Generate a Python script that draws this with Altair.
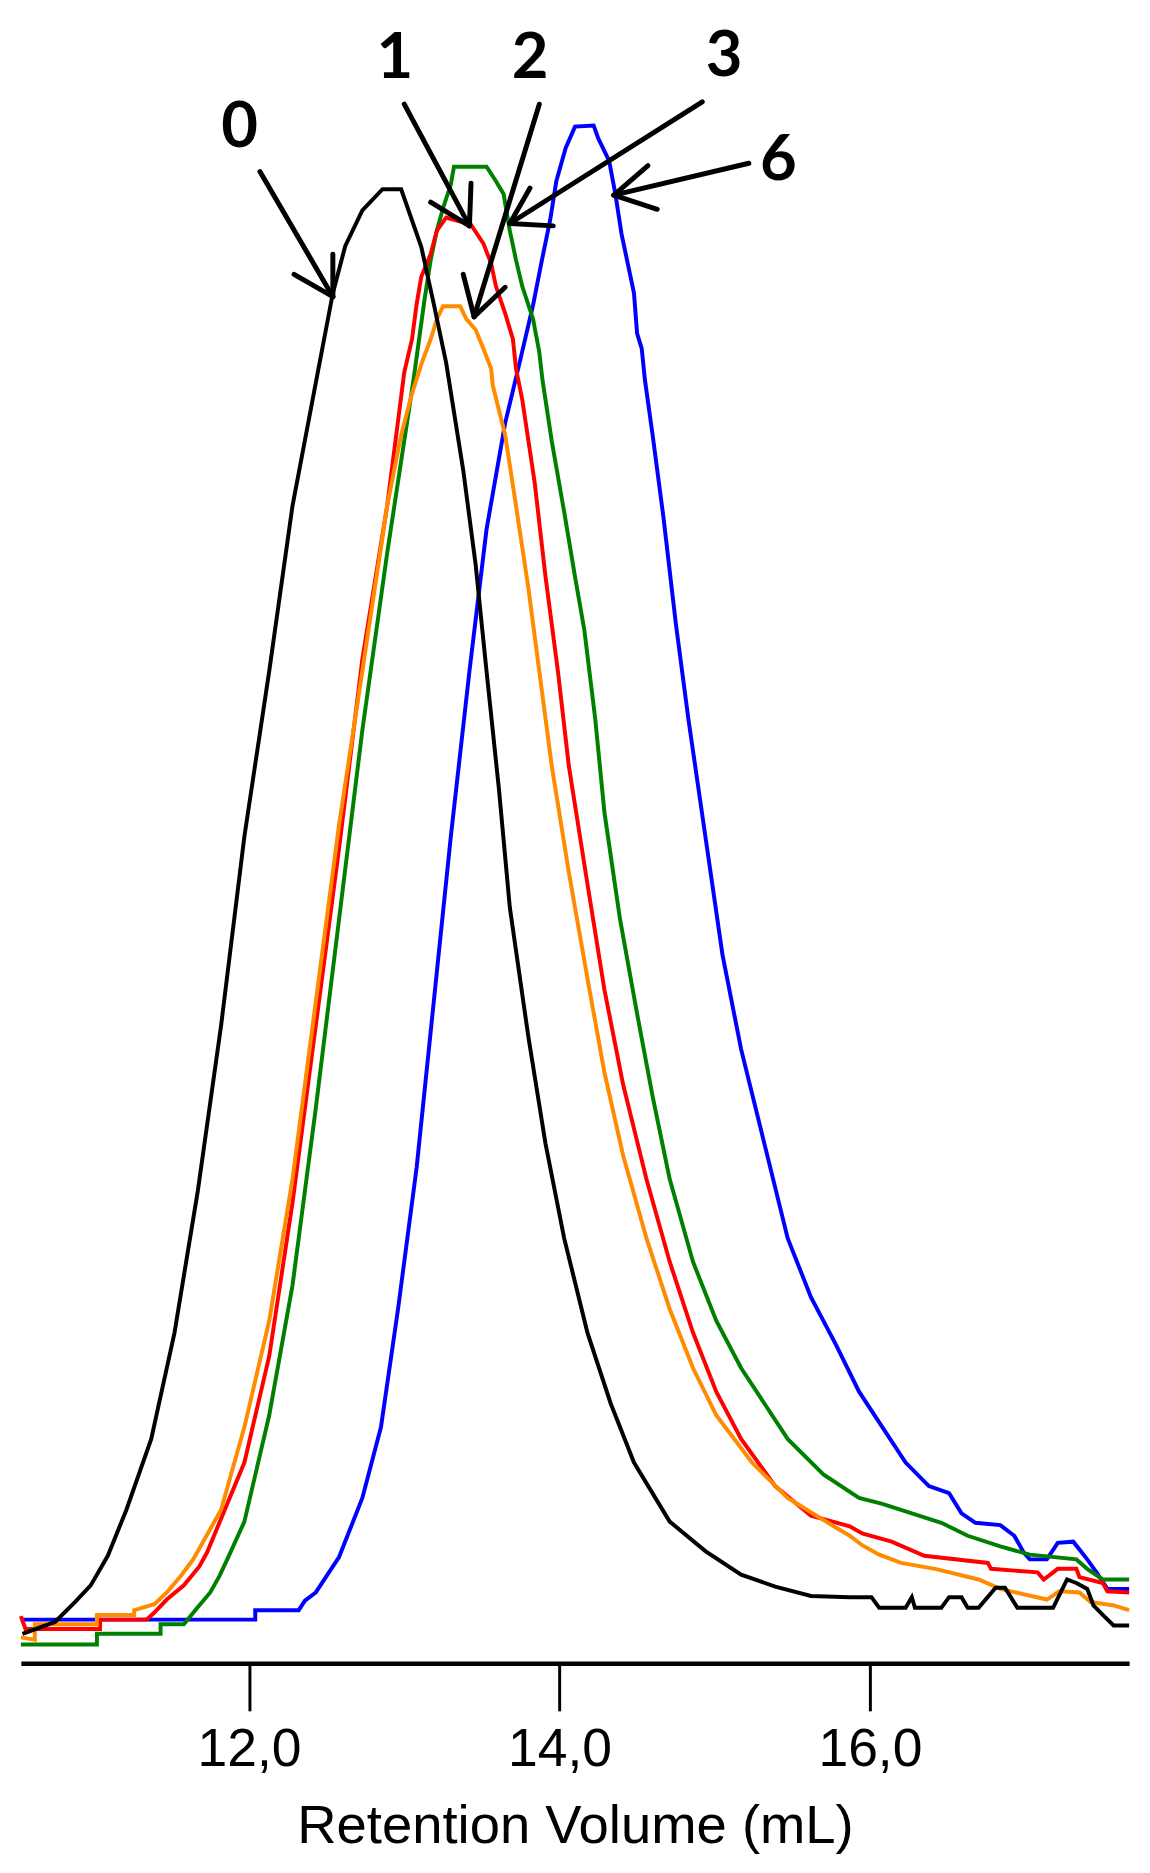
import altair as alt
import pandas as pd

# Retention volume (mL) and detector signal (arbitrary units) per sample
black_x = [10.54, 10.75, 10.88, 10.98, 11.09, 11.21, 11.37, 11.52, 11.67, 11.82, 11.97, 12.13, 12.28, 12.43, 12.54, 12.62, 12.73, 12.86, 12.98, 13.11, 13.19, 13.27, 13.38, 13.46, 13.53, 13.61, 13.68, 13.80, 13.91, 14.03, 14.18, 14.33, 14.48, 14.71, 14.94, 15.17, 15.39, 15.62, 15.87, 16.01, 16.06, 16.23, 16.27, 16.29, 16.46, 16.51, 16.59, 16.63, 16.70, 16.81, 16.87, 16.95, 17.18, 17.27, 17.33, 17.40, 17.44, 17.50, 17.57, 17.67]
black_y = [25, 35, 52, 66, 91, 130, 190, 280, 400, 540, 700, 840, 980, 1084, 1160, 1200, 1230, 1248, 1248, 1199, 1151, 1101, 1010, 930, 840, 740, 640, 530, 440, 360, 280, 220, 170, 120, 95, 75, 65, 57, 56, 56, 47, 47, 56, 47, 47, 56, 56, 47, 47, 64, 64, 47, 47, 71, 68, 63, 49, 41, 32, 32]

red_x = [10.53, 10.56, 11.04, 11.04, 11.34, 11.39, 11.47, 11.58, 11.68, 11.73, 11.97, 12.13, 12.28, 12.43, 12.58, 12.73, 12.89, 13.00, 13.05, 13.08, 13.11, 13.17, 13.21, 13.27, 13.43, 13.51, 13.56, 13.59, 13.65, 13.70, 13.72, 13.76, 13.84, 13.91, 13.99, 14.06, 14.18, 14.29, 14.41, 14.56, 14.71, 14.86, 15.01, 15.17, 15.39, 15.62, 15.87, 15.95, 16.14, 16.35, 16.76, 16.78, 17.08, 17.12, 17.21, 17.33, 17.35, 17.50, 17.53, 17.67]
red_y = [40, 29, 29, 37, 37, 43, 54, 66, 82, 94, 170, 260, 390, 540, 690, 850, 980, 1093, 1121, 1151, 1174, 1193, 1213, 1224, 1218, 1202, 1185, 1166, 1143, 1121, 1096, 1070, 1000, 920, 840, 760, 660, 570, 490, 410, 340, 280, 230, 190, 150, 125, 116, 110, 103, 91, 85, 80, 77, 71, 80, 80, 73, 68, 61, 60]

orange_x = [10.53, 10.62, 10.62, 11.02, 11.02, 11.26, 11.26, 11.39, 11.47, 11.56, 11.64, 11.82, 11.97, 12.13, 12.28, 12.43, 12.58, 12.73, 12.89, 12.98, 13.05, 13.11, 13.17, 13.21, 13.25, 13.36, 13.40, 13.46, 13.51, 13.56, 13.57, 13.65, 13.72, 13.80, 13.87, 13.95, 14.06, 14.18, 14.29, 14.41, 14.56, 14.71, 14.86, 15.01, 15.24, 15.47, 15.78, 15.87, 15.95, 16.06, 16.20, 16.42, 16.70, 16.84, 17.14, 17.22, 17.35, 17.42, 17.57, 17.67]
orange_y = [22, 20, 33, 33, 41, 41, 45, 50, 60, 74, 88, 130, 200, 290, 410, 560, 710, 840, 980, 1040, 1075, 1100, 1121, 1138, 1149, 1149, 1138, 1129, 1113, 1096, 1082, 1040, 980, 910, 840, 760, 670, 580, 500, 430, 360, 300, 250, 210, 170, 140, 115, 108, 100, 92, 85, 80, 71, 63, 54, 61, 60, 52, 49, 45]

green_x = [10.53, 11.02, 11.02, 11.43, 11.43, 11.58, 11.66, 11.75, 11.81, 11.87, 11.97, 12.13, 12.28, 12.43, 12.58, 12.73, 12.89, 13.06, 13.13, 13.17, 13.21, 13.25, 13.30, 13.32, 13.53, 13.59, 13.64, 13.68, 13.72, 13.76, 13.83, 13.87, 13.89, 13.95, 14.03, 14.10, 14.16, 14.23, 14.29, 14.39, 14.50, 14.60, 14.71, 14.86, 15.01, 15.17, 15.32, 15.47, 15.70, 15.93, 16.08, 16.27, 16.46, 16.63, 16.84, 17.03, 17.33, 17.40, 17.50, 17.67]
green_y = [16, 16, 25, 25, 33, 33, 46, 60, 74, 91, 120, 210, 320, 470, 630, 790, 940, 1087, 1154, 1188, 1213, 1232, 1252, 1267, 1267, 1255, 1244, 1213, 1188, 1166, 1138, 1110, 1087, 1035, 975, 920, 875, 800, 720, 630, 550, 480, 410, 340, 290, 250, 220, 190, 160, 140, 135, 127, 119, 108, 99, 92, 88, 80, 71, 71]

blue_x = [10.53, 12.04, 12.04, 12.32, 12.36, 12.43, 12.58, 12.73, 12.85, 12.96, 13.08, 13.19, 13.30, 13.42, 13.53, 13.65, 13.75, 13.83, 13.89, 13.94, 13.98, 14.04, 14.10, 14.22, 14.25, 14.32, 14.36, 14.40, 14.44, 14.48, 14.50, 14.53, 14.55, 14.60, 14.67, 14.75, 14.83, 14.94, 15.05, 15.17, 15.32, 15.47, 15.62, 15.78, 15.93, 16.08, 16.23, 16.38, 16.51, 16.59, 16.68, 16.84, 16.93, 16.99, 17.03, 17.14, 17.21, 17.31, 17.40, 17.46, 17.53, 17.67]
blue_y = [37, 37, 45, 45, 53, 60, 90, 140, 200, 300, 420, 560, 700, 840, 960, 1050, 1105, 1150, 1190, 1222, 1255, 1283, 1301, 1302, 1291, 1272, 1244, 1210, 1185, 1160, 1126, 1113, 1087, 1040, 970, 880, 800, 700, 600, 520, 440, 360, 310, 270, 230, 200, 170, 150, 144, 127, 119, 117, 108, 94, 88, 88, 102, 103, 88, 77, 63, 63]

# Annotation labels (text, position in data units)
label_text = ["0", "1", "2", "3", "6"]
label_x = [11.94, 12.94, 13.81, 15.06, 15.41]
label_y = [1300, 1358, 1358, 1360, 1272]

# Arrow segments (shaft + two barbs each) in data units
arrow_x1 = [12.07, 12.54, 12.54, 13.00, 13.42, 13.42, 13.87, 13.45, 13.45, 14.92, 13.68, 13.68, 15.22, 14.35, 14.35]
arrow_y1 = [1263, 1157, 1157, 1320, 1217, 1217, 1320, 1140, 1140, 1322, 1219, 1219, 1270, 1243, 1243]
arrow_x2 = [12.54, 12.29, 12.54, 13.42, 13.43, 13.17, 13.45, 13.38, 13.65, 13.68, 13.81, 13.96, 14.35, 14.57, 14.63]
arrow_y2 = [1157, 1176, 1193, 1217, 1253, 1237, 1140, 1176, 1165, 1219, 1249, 1217, 1243, 1268, 1231]

xscale = alt.Scale(domain=[10.53, 17.67], nice=False, zero=False)
yscale = alt.Scale(domain=[0, 1389], nice=False, zero=False)
xaxis = alt.Axis(
    values=[12, 14, 16],
    labelExpr="replace(format(datum.value, '.1f'), '.', ',')",
    grid=False,
    tickSize=48, tickWidth=3, tickColor="black",
    domainColor="black", domainWidth=4.5,
    labelFont="Liberation Sans", labelFontSize=54, labelColor="black", labelPadding=12,
    title="Retention Volume (mL)", titleFont="Liberation Sans", titleFontSize=55,
    titleFontWeight="normal", titleColor="black", titlePadding=24,
)

curves = [
    ("6", blue_x, blue_y, "#0000ff"),
    ("3", green_x, green_y, "#008000"),
    ("1", red_x, red_y, "#ff0000"),
    ("2", orange_x, orange_y, "#ff8c00"),
    ("0", black_x, black_y, "#000000"),
]

layers = []
for name, xs, ys, col in curves:
    df = pd.DataFrame({"v": xs, "s": ys, "i": list(range(len(xs)))})
    layers.append(
        alt.Chart(df).mark_line(color=col, strokeWidth=4).encode(
            x=alt.X("v:Q", scale=xscale, axis=xaxis),
            y=alt.Y("s:Q", scale=yscale, axis=None),
            order=alt.Order("i:Q"),
        )
    )

arrows = pd.DataFrame({"x1": arrow_x1, "y1": arrow_y1, "x2": arrow_x2, "y2": arrow_y2})
layers.append(
    alt.Chart(arrows).mark_rule(color="black", strokeWidth=5, strokeCap="round").encode(
        x=alt.X("x1:Q", scale=xscale, axis=xaxis),
        y=alt.Y("y1:Q", scale=yscale, axis=None),
        x2="x2:Q",
        y2="y2:Q",
    )
)

labels = pd.DataFrame({"t": label_text, "x": label_x, "y": label_y})
layers.append(
    alt.Chart(labels).mark_text(font="Lato", fontWeight="bold", fontSize=64,
                                align="center", baseline="middle", color="black").encode(
        x=alt.X("x:Q", scale=xscale, axis=xaxis),
        y=alt.Y("y:Q", scale=yscale, axis=None),
        text="t:N",
    )
)

chart = alt.layer(*layers).properties(width=1120, height=1658).configure_view(stroke=None)
chart.save("out.html", embed_options={"renderer": "svg", "actions": False})
